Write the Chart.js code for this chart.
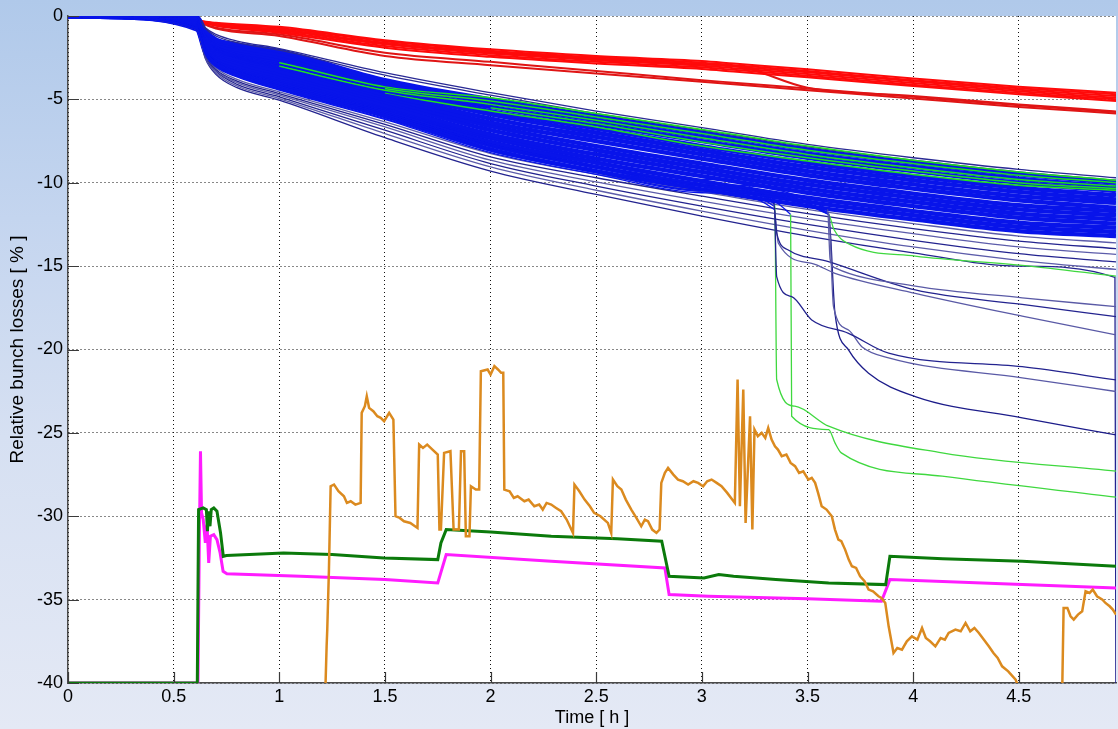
<!DOCTYPE html>
<html>
<head>
<meta charset="utf-8">
<script src="https://cdn.jsdelivr.net/npm/chart.js@4.4.1/dist/chart.umd.min.js"></script>
<style>
    html, body { margin: 0; padding: 0; }
    body {
        width: 1118px; height: 729px; overflow: hidden;
        background: linear-gradient(180deg, #b0c9ea 0%, #c4d5ef 30%, #d6e0f2 60%, #e4e9f5 100%);
    }
    #lossChart { position: absolute; left: 0; top: 0; }
</style>
</head>
<body>
<canvas id="lossChart" width="1118" height="729"></canvas>
<script>
// time axis [h] shared by the bunch curves
const bunchTime = [0, 0.15, 0.61, 0.65, 0.7, 0.8, 1, 1.5, 2, 2.5, 3, 3.5, 4, 4.5, 4.96];

// main blue bunch family
const blueBunch = [
    [0, 0, -0.05, -0.9, -1.4, -1.7, -2.1, -3.85, -5.0, -6.0, -7.0, -8.0, -8.8, -9.5, -10.0],
    [0, 0, -0.1, -1.0, -1.5, -1.85, -2.3, -4.0, -5.2, -6.25, -7.25, -8.25, -9.05, -9.75, -10.25],
    [0, -0.01, -0.17, -1.1, -1.65, -2.0, -2.45, -4.2, -5.45, -6.5, -7.5, -8.5, -9.3, -10.0, -10.5],
    [0, -0.01, -0.22, -1.2, -1.75, -2.1, -2.6, -4.35, -5.7, -6.75, -7.8, -8.8, -9.6, -10.3, -10.75],
    [0, -0.02, -0.28, -1.3, -1.85, -2.25, -2.8, -4.5, -5.9, -7.0, -8.05, -9.05, -9.85, -10.55, -11.0],
    [0, -0.02, -0.34, -1.4, -2.0, -2.4, -2.95, -4.7, -6.15, -7.25, -8.3, -9.3, -10.1, -10.8, -11.2],
    [0, -0.02, -0.4, -1.5, -2.1, -2.55, -3.1, -4.85, -6.4, -7.5, -8.55, -9.55, -10.35, -11.05, -11.5],
    [0, -0.03, -0.45, -1.6, -2.2, -2.65, -3.3, -5.0, -6.6, -7.8, -8.85, -9.85, -10.65, -11.35, -11.7],
    [0, -0.03, -0.5, -1.7, -2.3, -2.8, -3.45, -5.15, -6.85, -8.05, -9.1, -10.1, -10.9, -11.6, -11.95],
    [0, -0.03, -0.57, -1.8, -2.45, -2.95, -3.6, -5.35, -7.1, -8.3, -9.35, -10.35, -11.15, -11.85, -12.2],
    [0, -0.04, -0.63, -1.9, -2.55, -3.1, -3.8, -5.5, -7.3, -8.55, -9.6, -10.6, -11.4, -12.1, -12.45],
    [0, -0.04, -0.68, -2.0, -2.65, -3.2, -3.95, -5.65, -7.55, -8.8, -9.9, -10.9, -11.7, -12.4, -12.7],
    [0, -0.05, -0.74, -2.1, -2.8, -3.35, -4.15, -5.85, -7.75, -9.05, -10.15, -11.15, -11.95, -12.65, -12.95],
    [0, -0.05, -0.8, -2.2, -2.9, -3.5, -4.3, -6.0, -8.0, -9.3, -10.4, -11.4, -12.2, -12.9, -13.2]
];

// green bunches inside the blue family, and where they show out of it
const greenBunch = [
    [0, 0, -0.05, -1.2, -1.8, -2.3, -2.8, -4.25, -4.9, -5.85, -6.8, -7.8, -8.65, -9.35, -9.85],
    [0, 0, -0.05, -1.25, -1.85, -2.35, -2.9, -4.35, -5.1, -6.05, -7.05, -8.05, -8.85, -9.55, -10.0],
    [0, 0, -0.05, -1.3, -1.9, -2.4, -3.0, -4.45, -5.3, -6.25, -7.3, -8.3, -9.1, -9.8, -10.2],
    [0, 0, -0.05, -1.3, -1.95, -2.45, -3.05, -4.55, -5.5, -6.45, -7.55, -8.5, -9.3, -10.0, -10.35],
    [0, 0, -0.05, -1.35, -2.0, -2.5, -3.1, -4.6, -5.7, -6.65, -7.8, -8.7, -9.5, -10.15, -10.45]
];
const greenVisibleFrom = [1.0, 1.5, 1.0, 2.0, 1.5];

// dark blue outliers above / below the family
const navyUpper = [
    [0, 0, -0.05, -0.7, -1.1, -1.5, -1.95, -3.4, -4.6, -5.7, -6.7, -7.7, -8.5, -9.2, -9.7],
    [0, 0, -0.05, -0.75, -1.2, -1.6, -2.05, -3.55, -4.75, -5.85, -6.85, -7.85, -8.65, -9.35, -9.85]
];
const navyLower = [
    [0, -0.05, -0.8, -2.3, -3.1, -3.8, -4.55, -6.35, -8.25, -9.5, -10.55, -11.6, -12.45, -13.2, -13.6],
    [0, -0.05, -0.8, -2.35, -3.2, -3.9, -4.65, -6.5, -8.45, -9.7, -10.8, -11.85, -12.75, -13.5, -13.95],
    [0, -0.05, -0.8, -2.4, -3.25, -4.0, -4.75, -6.65, -8.65, -9.95, -11.1, -12.15, -13.05, -13.85, -14.3],
    [0, -0.05, -0.8, -2.45, -3.3, -4.1, -4.85, -6.85, -8.85, -10.2, -11.4, -12.5, -13.45, -14.25, -14.75],
    [0, -0.05, -0.8, -2.5, -3.4, -4.2, -4.95, -7.05, -9.05, -10.45, -11.7, -12.85, -13.85, -14.65, -15.2]
];
const edgeTime = [0, 0.15, 0.61, 0.65, 0.7, 0.8, 1, 1.5, 2, 2.5, 3, 3.5, 4, 4.5, 4.955, 4.96];
const navyEdge = [0, -0.05, -0.8, -2.55, -3.5, -4.3, -5.05, -7.3, -9.3, -10.7, -12.0, -13.2, -14.2, -15.0, -15.68, -45];

// red bunch family
const redTime = [0, 0.15, 0.6, 0.63, 0.7, 1, 1.5, 2, 2.5, 3, 3.15, 3.5, 4, 4.5, 4.96];
const redBunch = [
    [0, 0, -0.15, -0.3, -0.4, -0.65, -1.45, -2.0, -2.4, -2.7, -2.85, -3.2, -3.75, -4.25, -4.6],
    [0, 0, -0.15, -0.3, -0.45, -0.72, -1.52, -2.08, -2.48, -2.8, -2.95, -3.3, -3.85, -4.33, -4.7],
    [0, 0, -0.15, -0.32, -0.5, -0.8, -1.6, -2.15, -2.55, -2.88, -3.03, -3.38, -3.92, -4.42, -4.8],
    [0, 0, -0.15, -0.33, -0.52, -0.86, -1.7, -2.25, -2.65, -2.98, -3.13, -3.48, -4.02, -4.52, -4.9],
    [0, 0, -0.15, -0.35, -0.55, -0.93, -1.8, -2.35, -2.75, -3.08, -3.23, -3.58, -4.12, -4.62, -5.0],
    [0, 0, -0.15, -0.35, -0.58, -1.0, -1.9, -2.45, -2.85, -3.18, -3.33, -3.68, -4.2, -4.7, -5.1],
    [0, 0, -0.15, -0.4, -0.75, -1.2, -2.4, -2.95, -3.45, -3.95, -4.1, -4.45, -4.95, -5.45, -5.85],
    [0, 0, -0.15, -0.4, -0.7, -1.1, -2.2, -2.75, -3.3, -3.85, -4.0, -4.35, -4.85, -5.35, -5.75],
    [0, 0, -0.15, -0.33, -0.5, -0.83, -1.65, -2.2, -2.6, -2.92, -2.98, -4.3, -4.8, -5.3, -5.72]
];

// bunches with a sudden extra loss (dark blue)
const dropA_t = [0, 0.15, 0.61, 0.65, 0.7, 0.8, 1, 1.5, 2, 2.5, 3, 3.595, 3.607, 3.63, 4.01, 4.516, 4.96];
const dropA_v = [0, -0.05, -0.75, -2.1, -2.8, -3.35, -4.1, -5.8, -7.7, -9.0, -10.1, -11.6, -14.6, -15.1, -16.2, -16.9, -17.43];
const dropB_t = [0, 0.15, 0.61, 0.65, 0.7, 0.8, 1, 1.5, 2, 2.5, 3, 3.34, 3.354, 3.409, 3.599, 4.01, 4.516, 4.96];
const dropB_v = [0, -0.05, -0.75, -2.15, -2.85, -3.4, -4.2, -5.9, -7.85, -9.1, -10.2, -11.2, -13.0, -14.03, -14.73, -16.43, -17.3, -18.03];
const dropC_t = [0, 0.15, 0.61, 0.65, 0.7, 0.8, 1, 1.5, 2, 2.5, 3, 3.34, 3.362, 3.52, 3.63, 4.01, 4.516, 4.96];
const dropC_v = [0, -0.05, -0.78, -2.2, -2.9, -3.5, -4.3, -6.0, -8.0, -9.3, -10.35, -11.4, -13.63, -14.83, -15.43, -16.63, -18.0, -19.12];
const dropD_t = [0, 0.15, 0.61, 0.65, 0.7, 0.8, 1, 1.5, 2, 2.5, 3, 3.343, 3.354, 3.425, 3.52, 3.694, 3.884, 4.516, 4.96];
const dropD_v = [0, -0.05, -0.8, -2.25, -3.0, -3.6, -4.4, -6.15, -8.1, -9.4, -10.5, -11.6, -15.63, -16.83, -18.23, -19.03, -20.22, -21.03, -21.82];
const dropE_t = [0, 0.15, 0.61, 0.65, 0.7, 0.8, 1, 1.5, 2, 2.5, 3, 3.6, 3.623, 3.694, 3.757, 3.884, 4.516, 4.96];
const dropE_v = [0, -0.05, -0.8, -2.2, -2.95, -3.55, -4.35, -6.05, -8.05, -9.35, -10.45, -11.8, -17.43, -18.83, -19.83, -20.5, -21.7, -22.52];
const dropF_t = [0, 0.15, 0.61, 0.65, 0.7, 0.8, 1, 1.5, 2, 2.5, 3, 3.6, 3.63, 3.694, 3.789, 4.01, 4.516, 4.96];
const dropF_v = [0, -0.05, -0.8, -2.3, -3.05, -3.65, -4.45, -6.2, -8.2, -9.5, -10.6, -11.9, -17.83, -20.02, -21.42, -22.82, -24.1, -25.12];
// time where each of them leaves the family
const dropNavyStart = [3.595, 3.34, 3.34, 3.343, 3.6, 3.6];

// same, green
const dropG1_t = [0, 0.15, 0.61, 0.65, 0.7, 0.8, 1, 1.5, 2, 2.5, 3, 3.345, 3.354, 3.44, 3.6, 4.137, 4.96];
const dropG1_v = [0, -0.05, -0.7, -2.0, -2.65, -3.2, -3.9, -5.6, -7.4, -8.7, -9.8, -11.3, -21.8, -23.4, -24.6, -26.2, -27.3];
const dropG2_t = [0, 0.15, 0.61, 0.65, 0.7, 0.8, 1, 1.5, 2, 2.5, 3, 3.42, 3.425, 3.6, 3.63, 3.66, 4.137, 4.96];
const dropG2_v = [0, -0.05, -0.75, -2.1, -2.8, -3.35, -4.1, -5.8, -7.7, -9.0, -10.1, -11.9, -24.0, -24.8, -25.6, -26.2, -27.6, -28.85];
const dropG3_t = [0, 0.15, 0.61, 0.65, 0.7, 0.8, 1, 1.5, 2, 2.5, 3, 3.6, 3.625, 3.7, 4.01, 4.516, 4.96];
const dropG3_v = [0, -0.05, -0.75, -2.1, -2.8, -3.35, -4.1, -5.8, -7.7, -9.0, -10.2, -11.9, -12.8, -13.7, -14.4, -14.95, -15.6];
const dropGreenStart = [3.345, 3.42, 3.6];

// thick traces at the bottom
const darkGreenT = [0, 0.612, 0.618, 0.64, 0.655, 0.66, 0.665, 0.672, 0.678, 0.69, 0.705, 0.722, 0.735, 0.75, 1.02, 1.25, 1.495, 1.75, 1.765, 1.79, 2.0, 2.287, 2.6, 2.81, 2.845, 3.01, 3.08, 3.15, 3.35, 3.6, 3.87, 3.89, 4.14, 4.516, 4.96];
const darkGreenV = [-40, -40, -29.6, -29.5, -29.6, -30.9, -29.7, -30.6, -29.6, -29.5, -29.7, -31.0, -32.4, -32.35, -32.2, -32.3, -32.5, -32.6, -31.6, -30.8, -30.95, -31.2, -31.35, -31.5, -33.6, -33.7, -33.5, -33.6, -33.8, -34.0, -34.1, -32.4, -32.55, -32.7, -33.0];

const magentaT = [0, 0.615, 0.622, 0.627, 0.632, 0.64, 0.65, 0.658, 0.666, 0.674, 0.69, 0.705, 0.72, 0.734, 0.752, 1.1, 1.5, 1.75, 1.79, 2.287, 2.825, 2.845, 3.03, 3.5, 3.85, 3.89, 4.516, 4.96];
const magentaV = [-40, -40, -31, -26.1, -29.8, -30.2, -31.6, -30.5, -32.8, -31.2, -31.1, -31.4, -32.2, -33.3, -33.45, -33.6, -33.8, -34.0, -32.3, -32.7, -33.1, -34.7, -34.8, -34.95, -35.1, -33.8, -34.1, -34.3];

// orange trace, [time, loss] pairs
const orangeTrace = [
    [1.215, -42], [1.219, -40], [1.224, -37.8], [1.227, -36.8], [1.235, -33.2], [1.243, -28.2], [1.259, -28.1], [1.28, -28.5],
    [1.306, -28.8], [1.32, -29.2], [1.338, -29.1], [1.36, -29.3], [1.385, -29.2], [1.39, -23.8], [1.405, -23.4], [1.414, -22.8],
    [1.425, -23.5], [1.445, -23.7], [1.464, -24.0], [1.48, -24.1], [1.496, -24.3], [1.52, -23.8], [1.54, -24.2], [1.55, -30.0],
    [1.57, -30.1], [1.59, -30.3], [1.62, -30.4], [1.654, -30.7], [1.662, -25.7], [1.68, -25.9], [1.7, -25.7], [1.725, -26.0],
    [1.75, -26.3], [1.758, -30.8], [1.765, -30.8], [1.78, -26.2], [1.81, -26.1], [1.825, -30.8], [1.85, -30.8], [1.86, -26.1],
    [1.875, -26.1], [1.883, -31.2], [1.9, -31.2], [1.907, -28.2], [1.93, -28.4], [1.946, -28.4], [1.954, -21.3], [1.986, -21.2],
    [2.0, -21.5], [2.018, -21.0], [2.035, -21.2], [2.05, -21.4], [2.06, -21.4], [2.065, -28.4], [2.09, -28.5], [2.11, -28.9],
    [2.128, -28.8], [2.16, -29.1], [2.18, -29.0], [2.207, -29.4], [2.23, -29.3], [2.247, -29.6], [2.265, -29.2], [2.287, -29.3],
    [2.31, -29.5], [2.334, -29.7], [2.36, -30.2], [2.39, -31.0], [2.397, -28.1], [2.42, -28.5], [2.445, -29.0], [2.47, -29.4],
    [2.49, -29.8], [2.52, -30.0], [2.555, -30.4], [2.571, -31.0], [2.579, -27.8], [2.6, -28.2], [2.619, -28.4], [2.64, -29.0],
    [2.666, -29.6], [2.69, -30.1], [2.713, -30.6], [2.73, -30.2], [2.745, -30.3], [2.765, -30.8], [2.785, -31.0], [2.8, -30.8],
    [2.808, -28.0], [2.825, -27.4], [2.84, -27.1], [2.865, -27.5], [2.887, -27.8], [2.91, -27.9], [2.935, -28.1], [2.96, -27.9],
    [2.982, -28.0], [3.006, -28.2], [3.025, -27.9], [3.046, -27.8], [3.07, -28.0], [3.093, -28.2], [3.12, -28.6], [3.156, -29.2],
    [3.169, -21.8], [3.18, -29.4], [3.196, -22.4], [3.207, -30.4], [3.228, -24.0], [3.239, -30.8], [3.249, -24.8], [3.265, -25.2],
    [3.283, -25.0], [3.3, -25.3], [3.314, -24.7], [3.33, -25.4], [3.346, -25.8], [3.36, -26.0], [3.378, -26.4], [3.4, -26.3],
    [3.42, -26.8], [3.441, -27.0], [3.46, -27.4], [3.48, -27.3], [3.504, -27.8], [3.52, -27.7], [3.536, -28.0], [3.55, -28.6],
    [3.567, -29.4], [3.59, -29.6], [3.615, -30.0], [3.63, -30.8], [3.646, -31.4], [3.66, -31.5], [3.678, -32.0], [3.695, -32.6],
    [3.71, -33.0], [3.73, -33.1], [3.749, -33.6], [3.77, -33.9], [3.789, -34.4], [3.81, -34.5], [3.836, -34.8], [3.85, -34.9],
    [3.868, -35.2], [3.884, -36.6], [3.907, -38.2], [3.925, -37.9], [3.947, -38.0], [3.97, -37.5], [3.994, -37.2], [4.02, -37.4],
    [4.042, -36.7], [4.06, -37.3], [4.08, -37.5], [4.105, -37.8], [4.13, -37.3], [4.15, -37.4], [4.168, -37.0], [4.2, -36.8],
    [4.225, -36.9], [4.248, -36.4], [4.27, -36.9], [4.29, -36.7], [4.311, -37.0], [4.335, -37.4], [4.358, -37.8], [4.38, -38.2],
    [4.4, -38.5], [4.421, -39.0], [4.45, -39.3], [4.485, -39.8], [4.5, -40.3], [4.6, -40.6], [4.705, -40.8], [4.712, -35.5],
    [4.73, -35.5], [4.745, -36.0], [4.76, -36.2], [4.78, -35.9], [4.8, -35.7], [4.816, -34.5], [4.835, -34.6], [4.85, -34.4],
    [4.87, -34.8], [4.896, -35.0], [4.91, -35.2], [4.93, -35.4], [4.945, -35.6], [4.96, -35.9]
];

// axis
const xTickStep = 0.5;
const yTickStep = 5;

const BLUE = '#0814ea';

Chart.defaults.font.family = "'Liberation Sans', Arial, sans-serif";
Chart.defaults.color = '#000';

function pts(xs, ys) {
    return xs.map((x, i) => ({ x: x, y: ys[i] }));
}

function series(xs, ys, color, width, smooth) {
    return {
        data: pts(xs, ys),
        borderColor: color,
        borderWidth: width,
        pointRadius: 0,
        fill: false,
        tension: 0,
        cubicInterpolationMode: smooth ? 'monotone' : 'default'
    };
}

// part of a curve before `from` is lost inside the blue family, draw it blue
function blueBefore(s, xs, from) {
    s.segment = { borderColor: c => xs[c.p0DataIndex] < from ? BLUE : undefined };
    return s;
}

// first dataset is drawn on top
const datasets = [];
datasets.push(series(orangeTrace.map(p => p[0]), orangeTrace.map(p => p[1]), '#db8a1f', 2.5, false));
datasets.push(series(darkGreenT, darkGreenV, '#0b7a0b', 3, false));
datasets.push(series(magentaT, magentaV, '#ff1cff', 3, false));

[[dropA_t, dropA_v, '#5a5aa6'], [dropB_t, dropB_v, '#23238f'], [dropC_t, dropC_v, '#5a5aa6'],
 [dropD_t, dropD_v, '#23238f'], [dropE_t, dropE_v, '#5a5aa6'], [dropF_t, dropF_v, '#1c1c8a']].forEach(([t, v, col], i) => {
    datasets.push(blueBefore(series(t, v, col, 1.3, true), t, dropNavyStart[i]));
});
[[dropG1_t, dropG1_v], [dropG2_t, dropG2_v], [dropG3_t, dropG3_v]].forEach(([t, v], i) => {
    datasets.push(blueBefore(series(t, v, '#3fd83f', 1.3, true), t, dropGreenStart[i]));
});

greenBunch.forEach((v, i) => datasets.push(blueBefore(series(bunchTime, v, '#1fe01f', 1.5, true), bunchTime, greenVisibleFrom[i])));
navyUpper.forEach(v => datasets.push(series(bunchTime, v, '#2a2a95', 1.3, true)));
navyLower.forEach((v, i) => datasets.push(series(bunchTime, v, i % 2 ? '#23238f' : '#5c5caa', 1.3, true)));
datasets.push(series(edgeTime, navyEdge, '#23238f', 1.3, true));
blueBunch.forEach(v => datasets.push(series(bunchTime, v, BLUE, 4.4, true)));
redBunch.forEach((v, i) => datasets.push(series(redTime, v, i > 5 ? '#e01515' : '#ff0a0a', 2, true)));

// white plot box
const plotBackground = {
    id: 'plotBackground',
    beforeDraw(chart) {
        const { ctx, chartArea: a } = chart;
        ctx.save();
        ctx.fillStyle = '#ffffff';
        ctx.fillRect(a.left, a.top, a.right - a.left, a.bottom - a.top);
        ctx.restore();
    }
};

// small ticks pointing into the plot, like the original
const innerTicks = {
    id: 'innerTicks',
    afterDraw(chart) {
        const { ctx, chartArea: a, scales } = chart;
        ctx.save();
        ctx.strokeStyle = '#3a3a3a';
        ctx.lineWidth = 1.2;
        ctx.beginPath();
        scales.x.ticks.forEach(t => {
            const px = Math.round(scales.x.getPixelForValue(t.value)) + 0.5;
            ctx.moveTo(px, a.bottom);
            ctx.lineTo(px, a.bottom - 11);
        });
        scales.y.ticks.forEach(t => {
            const py = Math.round(scales.y.getPixelForValue(t.value)) + 0.5;
            ctx.moveTo(a.left, py);
            ctx.lineTo(a.left + 11, py);
        });
        ctx.stroke();
        ctx.restore();
    }
};

const ctx = document.getElementById('lossChart').getContext('2d');
new Chart(ctx, {
    type: 'line',
    data: { datasets: datasets },
    plugins: [plotBackground, innerTicks],
    options: {
        responsive: false,
        animation: false,
        events: [],
        layout: { padding: { top: 16, right: 2, left: 0, bottom: 0 } },
        plugins: {
            legend: { display: false },
            tooltip: { enabled: false }
        },
        scales: {
            x: {
                type: 'linear',
                min: 0,
                max: 4.96,
                afterFit(scale) { scale.height = 46; },
                afterBuildTicks(scale) {
                    scale.ticks = scale.ticks.filter(t => Math.abs(t.value / xTickStep - Math.round(t.value / xTickStep)) < 1e-6);
                },
                ticks: {
                    stepSize: xTickStep,
                    padding: 3,
                    maxRotation: 0,
                    font: { size: 18 },
                    callback: v => String(+v.toFixed(2))
                },
                grid: { color: '#111', lineWidth: 1, drawTicks: false },
                border: { display: true, color: '#4a4a4a', width: 1.5, dash: [1, 3] },
                title: { display: true, text: 'Time [ h ]', font: { size: 18 }, padding: { top: 0, bottom: 0 } }
            },
            y: {
                min: -40,
                max: 0,
                afterFit(scale) { scale.width = 68; },
                ticks: {
                    stepSize: yTickStep,
                    padding: 5,
                    font: { size: 18 },
                    callback: v => String(v)
                },
                grid: { color: '#111', lineWidth: 1, drawTicks: false },
                border: { display: true, color: '#4a4a4a', width: 1.5, dash: [1, 3] },
                title: { display: true, text: 'Relative bunch losses [ % ]', font: { size: 19 }, padding: { top: 6, bottom: 0 } }
            }
        }
    }
});
</script>
</body>
</html>
